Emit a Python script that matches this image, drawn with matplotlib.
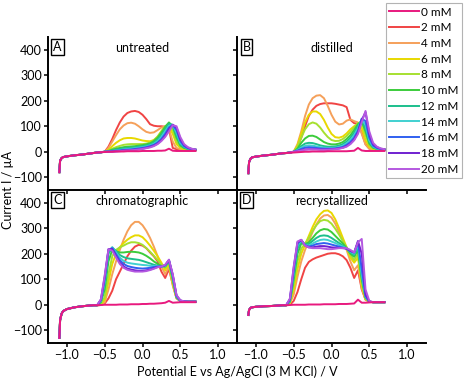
import matplotlib
matplotlib.use("Agg")
import matplotlib.pyplot as plt

plt.rcParams['font.family'] = ['Lato', 'DejaVu Sans']

# potentials (V) - baseline part and active part of the sweep
E_base = [-1.10, -1.09, -1.07, -1.05, -1.00, -0.90, -0.80, -0.70, -0.65]
E_act = [-0.60, -0.55, -0.50, -0.45, -0.40, -0.35, -0.30, -0.25, -0.20, -0.15,
         -0.10, -0.05, 0.00, 0.05, 0.10, 0.15, 0.20, 0.25, 0.30, 0.35,
         0.40, 0.45, 0.50, 0.55, 0.60, 0.65, 0.70]

conc = ['0 mM', '2 mM', '4 mM', '6 mM', '8 mM', '10 mM', '12 mM', '14 mM', '16 mM', '18 mM', '20 mM']
colors = ['#e8197e', '#f04444', '#f5a05a', '#e8d800', '#a6e030', '#3ccc3c',
          '#1cbf8c', '#40d0d0', '#3060f0', '#7020d0', '#b458e0']

panel_letters = ['A', 'B', 'C', 'D']
panel_titles = ['untreated', 'distilled', 'chromatographic', 'recrystallized']

# baseline current (µA) before the oxidation onset, per panel
base_A = [-80, -35, -25, -21, -18, -14, -11, -7, -5]
base_B = [-84, -40, -27, -22, -19, -15, -12, -8, -6]
base_C = [-130, -60, -35, -25, -17, -10, -6, -3, -2]
base_D = [-40, -20, -12, -10, -8, -6, -5, -3, -2]

# current (µA) on E_act, one row per concentration 0..20 mM
curves_A = [
    [-3, -2, -1, 0, 0, 1, 1, 1, 2, 2, 2, 2, 3, 3, 3, 3, 4, 4, 5, 12, 4, 3, 3, 3, 3, 3, 3],
    [-3, -2, 0, 20, 50, 85, 115, 138, 152, 158, 160, 156, 145, 128, 108, 102, 100, 100, 98, 90, 15, 10, 8, 6, 5, 5, 5],
    [-3, -2, 0, 15, 40, 65, 88, 103, 112, 114, 110, 100, 88, 78, 74, 76, 85, 95, 100, 90, 40, 15, 10, 8, 7, 6, 6],
    [-3, -2, 0, 8, 22, 35, 45, 52, 54, 54, 52, 48, 44, 42, 41, 46, 58, 80, 98, 100, 70, 30, 15, 10, 8, 8, 7],
    [-3, -2, 0, 5, 12, 18, 23, 27, 29, 30, 30, 30, 30, 32, 36, 45, 60, 80, 100, 108, 85, 40, 20, 13, 10, 9, 8],
    [-3, -2, 0, 3, 8, 12, 15, 18, 20, 21, 22, 24, 26, 29, 33, 42, 55, 75, 98, 115, 100, 55, 25, 15, 11, 9, 8],
    [-3, -2, 0, 2, 5, 8, 11, 13, 15, 16, 18, 20, 22, 25, 29, 36, 48, 65, 88, 110, 105, 65, 30, 17, 12, 9, 8],
    [-3, -2, 0, 1, 3, 5, 7, 9, 11, 12, 14, 16, 18, 21, 25, 31, 42, 58, 80, 102, 106, 75, 35, 20, 13, 10, 8],
    [-3, -2, 0, 1, 2, 4, 5, 7, 8, 9, 11, 13, 15, 18, 22, 27, 36, 50, 70, 95, 105, 85, 42, 22, 14, 10, 8],
    [-3, -2, 0, 0, 1, 2, 3, 5, 6, 7, 8, 10, 12, 15, 19, 24, 32, 45, 62, 88, 106, 95, 50, 27, 16, 11, 8],
    [-3, -2, 0, 0, 0, 1, 2, 4, 5, 6, 7, 9, 11, 14, 17, 22, 30, 42, 58, 80, 104, 100, 58, 30, 18, 12, 9],
]
curves_B = [
    [-5, -4, -3, -2, -1, 0, 0, 1, 1, 1, 1, 2, 2, 2, 2, 2, 2, 3, 4, 15, 5, 3, 3, 3, 3, 3, 3],
    [-5, -3, 0, 20, 55, 100, 140, 165, 180, 187, 190, 190, 190, 188, 185, 182, 175, 125, 112, 110, 75, 30, 12, 9, 8, 8, 8],
    [-5, -3, 0, 30, 80, 140, 185, 210, 220, 222, 210, 180, 145, 118, 107, 110, 122, 127, 120, 115, 70, 28, 12, 9, 8, 8, 8],
    [-5, -3, 0, 25, 70, 115, 145, 158, 158, 148, 125, 95, 70, 57, 55, 60, 72, 88, 100, 110, 95, 45, 18, 11, 9, 8, 8],
    [-5, -3, 0, 20, 55, 88, 108, 115, 110, 95, 75, 58, 46, 42, 43, 50, 62, 78, 95, 112, 115, 65, 25, 13, 10, 9, 8],
    [-5, -3, 0, 12, 35, 52, 62, 63, 58, 48, 38, 32, 29, 29, 32, 38, 50, 65, 85, 108, 120, 80, 32, 16, 11, 9, 8],
    [-5, -3, 0, 8, 22, 32, 35, 34, 30, 25, 22, 20, 20, 21, 24, 30, 40, 55, 75, 100, 125, 92, 38, 18, 12, 10, 8],
    [-5, -3, 0, 6, 16, 23, 25, 24, 21, 18, 16, 15, 15, 16, 19, 24, 33, 46, 65, 92, 128, 105, 45, 20, 13, 10, 8],
    [-5, -3, 0, 4, 11, 16, 18, 17, 15, 13, 12, 12, 12, 13, 15, 19, 27, 38, 55, 82, 130, 120, 55, 24, 15, 11, 9],
    [-5, -3, 0, 2, 6, 9, 10, 10, 10, 9, 9, 9, 10, 11, 13, 16, 22, 32, 48, 75, 125, 155, 70, 30, 18, 12, 10],
    [-5, -3, 0, 2, 5, 8, 9, 9, 9, 8, 8, 8, 9, 10, 12, 15, 20, 30, 45, 70, 115, 160, 80, 35, 20, 13, 10],
]
curves_C = [
    [-2, -1, 0, 0, 0, 0, 1, 1, 1, 2, 2, 2, 3, 3, 4, 4, 5, 6, 8, 15, 8, 9, 10, 10, 10, 10, 10],
    [-2, -1, 5, 25, 55, 100, 130, 160, 190, 212, 228, 235, 232, 222, 205, 190, 170, 130, 105, 140, 80, 25, 14, 12, 12, 12, 12],
    [-2, -1, 10, 60, 120, 170, 215, 255, 288, 312, 325, 325, 312, 290, 262, 228, 190, 150, 120, 150, 75, 25, 15, 12, 12, 12, 12],
    [-2, 0, 20, 90, 160, 200, 225, 242, 255, 265, 272, 272, 265, 250, 232, 212, 190, 165, 135, 160, 85, 28, 15, 12, 12, 12, 12],
    [-2, 2, 30, 120, 190, 215, 225, 232, 240, 245, 245, 242, 235, 222, 208, 192, 175, 158, 145, 165, 90, 28, 15, 12, 12, 12, 12],
    [-2, 10, 60, 170, 215, 210, 205, 205, 207, 208, 207, 205, 200, 192, 182, 170, 160, 152, 150, 170, 100, 30, 15, 13, 12, 12, 12],
    [-2, 15, 80, 200, 225, 210, 195, 187, 182, 180, 178, 176, 172, 167, 162, 157, 153, 150, 152, 172, 105, 30, 15, 13, 12, 12, 12],
    [-2, 15, 90, 210, 225, 205, 185, 172, 165, 162, 160, 158, 156, 155, 153, 152, 152, 150, 152, 174, 110, 32, 15, 13, 12, 12, 12],
    [-2, 18, 100, 215, 222, 198, 175, 160, 152, 148, 145, 143, 142, 143, 145, 148, 150, 150, 155, 175, 115, 35, 16, 13, 12, 12, 12],
    [-2, 20, 110, 218, 218, 190, 165, 150, 142, 138, 135, 133, 133, 135, 138, 143, 148, 150, 155, 175, 118, 35, 17, 13, 12, 12, 12],
    [-2, 22, 115, 218, 212, 185, 160, 145, 137, 133, 130, 130, 130, 132, 136, 141, 147, 150, 157, 177, 120, 38, 18, 13, 12, 12, 12],
]
curves_D = [
    [-2, -1, 0, 0, 0, 0, 1, 1, 1, 1, 2, 2, 2, 2, 3, 3, 3, 4, 5, 20, 8, 8, 9, 10, 10, 10, 10],
    [-2, 0, 15, 50, 100, 145, 168, 178, 185, 190, 195, 200, 202, 202, 198, 190, 175, 145, 105, 135, 60, 20, 12, 10, 10, 10, 10],
    [-2, 5, 40, 110, 170, 215, 250, 285, 315, 338, 350, 352, 342, 318, 285, 250, 215, 170, 135, 155, 65, 20, 12, 10, 10, 10, 10],
    [-2, 8, 60, 140, 200, 235, 270, 305, 335, 355, 368, 370, 360, 335, 300, 262, 225, 185, 165, 185, 75, 22, 12, 10, 10, 10, 10],
    [-2, 10, 80, 170, 220, 240, 262, 290, 312, 328, 333, 330, 318, 298, 275, 250, 225, 195, 175, 200, 90, 25, 12, 10, 10, 10, 10],
    [-2, 12, 100, 200, 240, 238, 245, 262, 280, 292, 297, 295, 285, 270, 255, 240, 222, 200, 188, 215, 100, 28, 12, 10, 10, 10, 10],
    [-2, 15, 115, 220, 248, 236, 238, 250, 262, 270, 272, 270, 262, 252, 242, 232, 220, 205, 195, 225, 110, 30, 12, 10, 10, 10, 10],
    [-2, 18, 125, 232, 252, 235, 232, 240, 248, 254, 256, 254, 248, 242, 235, 228, 220, 208, 200, 235, 120, 32, 12, 10, 10, 10, 10],
    [-2, 20, 135, 240, 254, 234, 228, 232, 238, 240, 242, 240, 236, 232, 228, 224, 220, 210, 205, 245, 140, 35, 12, 10, 10, 10, 10],
    [-2, 22, 145, 245, 254, 232, 225, 225, 228, 230, 230, 228, 225, 224, 223, 222, 220, 212, 205, 250, 200, 40, 13, 10, 10, 10, 10],
    [-2, 25, 150, 248, 255, 232, 225, 222, 222, 222, 220, 218, 218, 220, 222, 222, 222, 215, 205, 245, 258, 60, 15, 10, 10, 10, 10],
]

bases = [base_A, base_B, base_C, base_D]
panels = [curves_A, curves_B, curves_C, curves_D]

fig = plt.figure(figsize=(4.65, 3.86), dpi=100)

W, H = 465, 386
boxes = [(48, 37), (237, 37), (48, 190), (237, 190)]   # left, top in px
pw, ph = 189, 153

x_ticks = [-1.0, -0.5, 0.0, 0.5, 1.0]
y_ticks = [-100, 0, 100, 200, 300, 400]

handles = []
for k in range(4):
    l, t = boxes[k]
    ax = fig.add_axes([l / W, (H - t - ph) / H, pw / W, ph / H])
    ax.patch.set_alpha(0)
    order = list(range(1, 11)) + [0]
    for i in order:
        x = E_base + E_act
        y = bases[k] + panels[k][i]
        ln, = ax.plot(x, y, color=colors[i], lw=1.4, label=conc[i])
        if k == 0:
            handles.append(ln)
    ax.set_xlim(-1.25, 1.25)
    ax.set_ylim(-150, 450)
    ax.set_xticks(x_ticks)
    ax.set_yticks(y_ticks)
    for s in ['top', 'right']:
        ax.spines[s].set_visible(False)
    for s in ['left', 'bottom']:
        ax.spines[s].set_linewidth(1.4)
    ax.tick_params(direction='out', length=3, width=1.1, labelsize=9, pad=1.5)
    if k < 2:
        ax.tick_params(labelbottom=False)
    else:
        ax.set_xticklabels(['\u22121.0', '\u22120.5', '0.0', '0.5', '1.0'])
    if k % 2 == 1:
        ax.tick_params(labelleft=False)
    else:
        ax.set_yticklabels(['\u2212100', '0', '100', '200', '300', '400'])
    ax.text(0.05, 0.935, panel_letters[k], transform=ax.transAxes, ha='center', va='center',
            fontsize=9, bbox=dict(boxstyle='square,pad=0.15', fc='white', ec='black', lw=1.0))
    ax.text(0.5, 0.925, panel_titles[k], transform=ax.transAxes, ha='center', va='center', fontsize=9)

handles = sorted(handles, key=lambda h: conc.index(h.get_label()))
leg = fig.legend(handles, conc, loc='upper right', bbox_to_anchor=(462 / W, (H - 3) / H),
                 fontsize=8.5, frameon=True, fancybox=False, handlelength=2.5, handletextpad=0.2,
                 labelspacing=0.4, borderpad=0.3, borderaxespad=0)
leg.get_frame().set_edgecolor('#a0a0a0')
leg.get_frame().set_linewidth(0.8)

fig.text(8 / W, (H - 190) / H, 'Current I / \u00b5A', rotation=90, ha='center', va='center', fontsize=9)
fig.text(237 / W, (H - 372) / H, 'Potential E vs Ag/AgCl (3 M KCl) / V', ha='center', va='center', fontsize=9)

fig.savefig('out.png', dpi=100)
